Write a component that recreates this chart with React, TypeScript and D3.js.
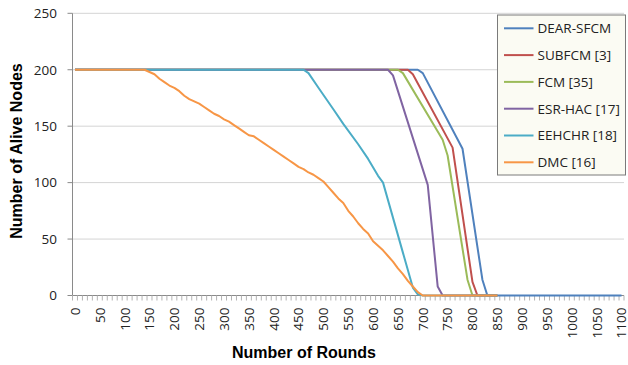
import React from 'react';
import * as d3 from 'd3';

// x categories: rounds 0..1100 every 10, labels every 50
const labelRounds = d3.range(0, 1101, 50);
const yTicks = [0, 50, 100, 150, 200, 250];

// [round, alive nodes]
const dearSfcm: [number, number][] = [
  [0, 200], [690, 200], [700, 197], [780, 130], [820, 14], [830, 0], [1100, 0],
];
const subfcm: [number, number][] = [
  [0, 200], [670, 200], [680, 196], [760, 131], [800, 12], [810, 0], [850, 0],
];
const fcm: [number, number][] = [
  [0, 200], [650, 200], [660, 197], [740, 138], [750, 124], [790, 14], [800, 0], [850, 0],
];
const esrHac: [number, number][] = [
  [0, 200], [630, 200], [640, 195], [710, 98], [730, 8], [740, 0], [850, 0],
];
const eehchr: [number, number][] = [
  [0, 200], [460, 200], [470, 197], [490, 184], [520, 165], [540, 152], [570, 134],
  [590, 121], [610, 106], [620, 100], [640, 69], [660, 38], [680, 7], [690, 1], [700, 0], [850, 0],
];
const dmcRounds = [
  0, 140, 150, 160, 170, 180, 190, 200, 210, 220, 230, 240, 250, 260, 270, 280, 290, 300,
  310, 320, 330, 340, 350, 360, 370, 380, 390, 400, 410, 420, 430, 440, 450, 460, 470, 480,
  490, 500, 510, 520, 530, 540, 550, 560, 570, 580, 590, 600, 610, 620, 630, 640, 650, 660,
  670, 680, 690, 700, 850,
];
const dmcNodes = [
  200, 200, 198, 196, 192, 189, 186, 184, 181, 177, 174, 172, 170, 167, 164, 161, 159, 156,
  154, 151, 148, 145, 142, 141, 138, 135, 132, 129, 126, 123, 120, 117, 114, 112, 109, 107,
  104, 101, 96, 91, 86, 82, 75, 70, 64, 59, 55, 48, 44, 40, 35, 30, 24, 19,
  13, 8, 3, 0, 0,
];
const dmc: [number, number][] = dmcRounds.map((r, i) => [r, dmcNodes[i]]);

const seriesNames = ['DEAR-SFCM', 'SUBFCM [3]', 'FCM [35]', 'ESR-HAC [17]', 'EEHCHR [18]', 'DMC [16]'];
const seriesData = [dearSfcm, subfcm, fcm, esrHac, eehchr, dmc];
const seriesColors = ['#4F81BD', '#C0504D', '#9BBB59', '#8064A2', '#4BACC6', '#F79646'];

const W = 628;
const H = 365;
const left = 72.5;
const right = 624;
const top = 13.3;
const bottom = 295.5;

export default function App() {
  const x = d3.scaleLinear().domain([-5, 1105]).range([left, right]);
  const y = d3.scaleLinear().domain([0, 250]).range([bottom, top]);
  const line = d3
    .line<[number, number]>()
    .x(d => x(d[0]))
    .y(d => y(d[1]));

  const minorTicks = d3.range(-5, 1106, 10);
  const numFont = "'Open Sans', sans-serif";

  return (
    <svg
      width={W}
      height={H}
      style={{ position: 'absolute', left: 0, top: 0, background: '#fff' }}
    >
      {/* gridlines */}
      {yTicks.slice(1).map(t => (
        <line key={t} x1={left} x2={right} y1={y(t)} y2={y(t)} stroke="#d4d4d4" strokeWidth={1} />
      ))}
      {/* y axis */}
      <line x1={left} x2={left} y1={top} y2={bottom} stroke="#8a8a8a" />
      {yTicks.map(t => (
        <g key={t}>
          <line x1={left - 5} x2={left} y1={y(t)} y2={y(t)} stroke="#8a8a8a" />
          <text
            x={57}
            y={y(t)}
            dy="0.36em"
            textAnchor="end"
            fontFamily={numFont}
            fontSize={13.5}
            fill="#222"
          >
            {t}
          </text>
        </g>
      ))}
      {/* x axis */}
      <line x1={left} x2={right} y1={bottom} y2={bottom} stroke="#8a8a8a" />
      {minorTicks.map(t => (
        <line key={t} x1={x(t)} x2={x(t)} y1={bottom} y2={bottom + 5} stroke="#b3b3b3" />
      ))}
      {labelRounds.map(r => (
        <text
          key={r}
          transform={`translate(${x(r)},${bottom + 12}) rotate(-90)`}
          dy="0.36em"
          textAnchor="end"
          fontFamily={numFont}
          fontSize={13.5}
          fill="#222"
        >
          {r}
        </text>
      ))}

      {/* series */}
      {seriesData.map((s, i) => (
        <path key={seriesNames[i]} d={line(s) || ''} fill="none" stroke={seriesColors[i]} strokeWidth={2} strokeLinejoin="round" />
      ))}

      {/* axis titles */}
      <text
        transform={`translate(16,151) rotate(-90)`}
        dy="0.36em"
        textAnchor="middle"
        fontFamily="'Liberation Sans', Arial, sans-serif"
        fontWeight="bold"
        fontSize={16}
      >
        Number of Alive Nodes
      </text>
      <text
        x={304}
        y={358}
        textAnchor="middle"
        fontFamily="'Liberation Sans', Arial, sans-serif"
        fontWeight="bold"
        fontSize={16}
      >
        Number of Rounds
      </text>

      {/* legend */}
      <rect x={497.5} y={15} width={128} height={160} fill="#fbfbf3" stroke="#7a7a7a" strokeWidth={1} />
      {seriesNames.map((n, i) => {
        const cy = 28.3 + i * 26.8;
        return (
          <g key={n}>
            <line x1={504} x2={533.5} y1={cy} y2={cy} stroke={seriesColors[i]} strokeWidth={2} />
            <text x={537.5} y={cy} dy="0.36em" fontFamily={numFont} fontSize={13.5} fill="#222">
              {n}
            </text>
          </g>
        );
      })}
    </svg>
  );
}
